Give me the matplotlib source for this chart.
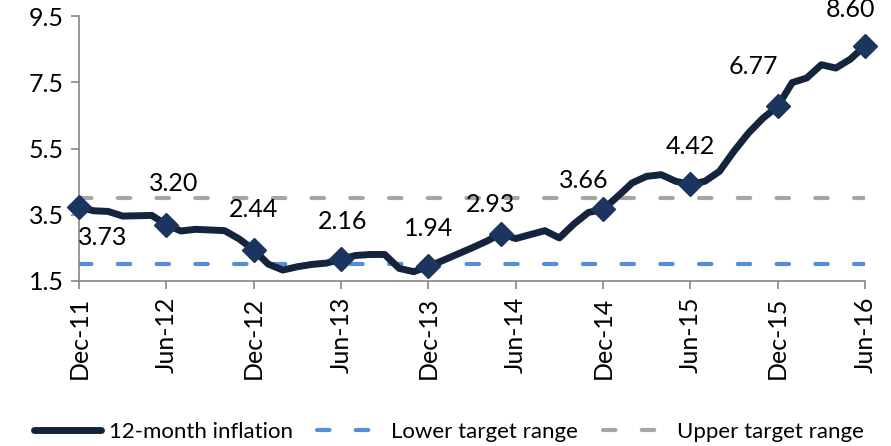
import matplotlib
matplotlib.use("Agg")
import matplotlib.pyplot as plt

months = ["Dec-11", "Jan-12", "Feb-12", "Mar-12", "Apr-12", "May-12", "Jun-12",
          "Jul-12", "Aug-12", "Sep-12", "Oct-12", "Nov-12", "Dec-12",
          "Jan-13", "Feb-13", "Mar-13", "Apr-13", "May-13", "Jun-13",
          "Jul-13", "Aug-13", "Sep-13", "Oct-13", "Nov-13", "Dec-13",
          "Jan-14", "Feb-14", "Mar-14", "Apr-14", "May-14", "Jun-14",
          "Jul-14", "Aug-14", "Sep-14", "Oct-14", "Nov-14", "Dec-14",
          "Jan-15", "Feb-15", "Mar-15", "Apr-15", "May-15", "Jun-15",
          "Jul-15", "Aug-15", "Sep-15", "Oct-15", "Nov-15", "Dec-15",
          "Jan-16", "Feb-16", "Mar-16", "Apr-16", "May-16", "Jun-16"]

inflation = [3.73, 3.62, 3.60, 3.46, 3.47, 3.48, 3.20,
             3.01, 3.06, 3.04, 3.02, 2.77, 2.44,
             2.01, 1.83, 1.93, 2.00, 2.04, 2.16,
             2.27, 2.30, 2.30, 1.88, 1.78, 1.94,
             2.12, 2.31, 2.50, 2.70, 2.93, 2.78,
             2.90, 3.02, 2.80, 3.22, 3.57, 3.66,
             4.05, 4.46, 4.66, 4.71, 4.51, 4.42,
             4.51, 4.81, 5.42, 5.97, 6.42, 6.77,
             7.49, 7.63, 8.03, 7.93, 8.20, 8.60]

lower_target = [2.0] * len(months)
upper_target = [4.0] * len(months)

# months that carry a marker and a value label
marked = ["Dec-11", "Jun-12", "Dec-12", "Jun-13", "Dec-13", "May-14",
          "Dec-14", "Jun-15", "Dec-15", "Jun-16"]
# label offsets from the marker, in pixels
label_offsets = [(24, -30), (7, 41), (0, 40), (2, 38), (0, 38), (-11, 29),
                 (-19, 29), (0, 38), (-24, 40), (-14, 36)]

tick_labels = months[::6]

plt.rcParams['font.family'] = ['Lato', 'DejaVu Sans']

fig = plt.figure(figsize=(8.91, 4.46), dpi=100)
ax = fig.add_axes([0.0887, 0.370, 0.8821, 0.594])

x = list(range(len(months)))
ax.plot(x, upper_target, color='#a6a6a6', lw=3, dashes=(3.0, 6.3),
        dash_capstyle='round', label='Upper target range', zorder=2)
ax.plot(x, lower_target, color='#558ed5', lw=3, dashes=(3.0, 6.3),
        dash_capstyle='round', label='Lower target range', zorder=2)
ax.plot(x, inflation, color='#14243d', lw=5, solid_capstyle='round',
        solid_joinstyle='round', label='12-month inflation', zorder=3)

mx = [months.index(m) for m in marked]
my = [inflation[i] for i in mx]
ax.plot(mx, my, 'D', color='#1c355e', ms=12, zorder=4, clip_on=False)

for xi, yi, (dx, dy) in zip(mx, my, label_offsets):
    ax.annotate(f"{yi:.2f}", (xi, yi), xytext=(dx, dy),
                textcoords='offset pixels', ha='center', va='center',
                fontsize=18, color='black')

ax.set_xlim(0, len(months) - 1)
ax.set_ylim(1.5, 9.5)
ax.set_yticks([1.5, 3.5, 5.5, 7.5, 9.5])
ax.set_yticklabels(["1.5", "3.5", "5.5", "7.5", "9.5"])
ax.set_xticks(x[::6])
ax.set_xticklabels(tick_labels, rotation=90)

for s in ['top', 'right']:
    ax.spines[s].set_visible(False)
for s in ['left', 'bottom']:
    ax.spines[s].set_color('#868686')
    ax.spines[s].set_linewidth(1.2)
ax.tick_params(axis='both', colors='#868686', length=6, width=1.2,
               labelsize=18, labelcolor='black', pad=5)

handles, labels = ax.get_legend_handles_labels()
order = [2, 1, 0]
fig.legend([handles[i] for i in order], [labels[i] for i in order],
           loc='lower center', bbox_to_anchor=(0.504, -0.035), ncol=3,
           frameon=False, fontsize=16, handlelength=3.0, handletextpad=0.35,
           columnspacing=1.1)

fig.savefig("out.png", dpi=100)
